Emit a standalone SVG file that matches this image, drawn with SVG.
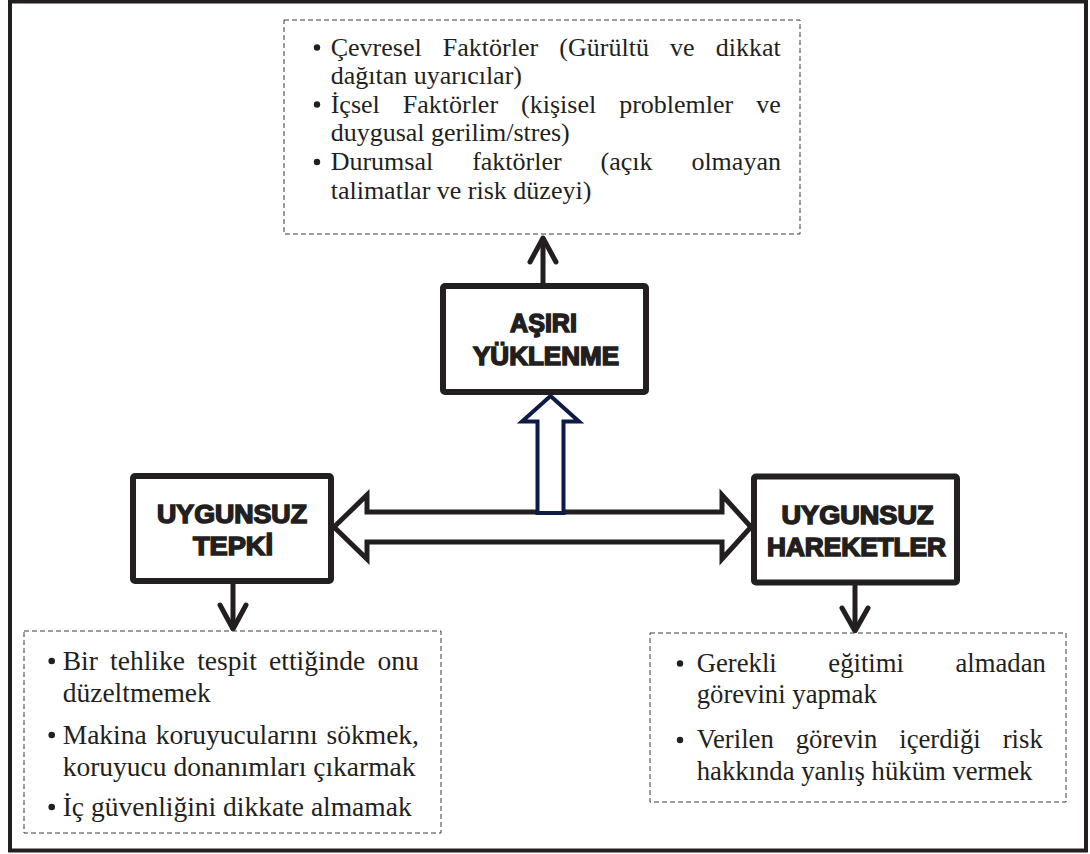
<svg xmlns="http://www.w3.org/2000/svg" width="1090" height="854" viewBox="0 0 1090 854">
  <style>
    .frame { fill: #ffffff; stroke: #231f20; stroke-width: 4; }
    .box { fill: #ffffff; stroke: #231f20; stroke-width: 6; }
    .note { fill: #ffffff; stroke: #3a3a3a; stroke-width: 1; stroke-dasharray: 5 3; }
    .label { font-family: "Liberation Sans", Arial, sans-serif; font-weight: bold; font-size: 25px; fill: #231f20; stroke: #231f20; stroke-width: 1.5; text-anchor: middle; }
    .body { font-family: 'Liberation Serif', Tinos, 'Times New Roman', 'DejaVu Serif', serif; font-size: 26px; fill: #231f20; }
    .big { font-size: 27.5px; }
    .mid { font-size: 26.7px; }
    .dot { fill: #231f20; }
    .line { fill: none; stroke: #231f20; stroke-width: 5; stroke-linecap: round; stroke-linejoin: round; }
    .double { fill: #ffffff; stroke: #231f20; stroke-width: 5; stroke-linejoin: miter; }
    .hollow { fill: #ffffff; stroke: #0d1b45; stroke-width: 4; stroke-linejoin: miter; }
  </style>

  <!-- page frame -->
  <rect class="frame" x="10" y="1.5" width="1076" height="849"/>

  <!-- connectors -->
  <g id="connectors">
    <!-- overload box up to its factor list -->
    <path class="line" d="M543,284 L543,239"/>
    <polyline class="line" points="530,262 543,238 556,262"/>
    <!-- left box down to its list -->
    <path class="line" d="M233,584 L233,627"/>
    <polyline class="line" points="220,605 233,629 246,605"/>
    <!-- right box down to its list -->
    <path class="line" d="M855,586 L855,629"/>
    <polyline class="line" points="842,608 855,631 868,608"/>
    <!-- two-way block arrow between the lower boxes -->
    <path class="double" d="M334,527 L367,495 L367,512 L722,512 L722,495 L751,527 L722,559 L722,542 L367,542 L367,559 Z"/>
    <!-- hollow up arrow into the overload box -->
    <path class="hollow" d="M550.5,396 L522,421.5 L537.5,421.5 L537.5,513 L563.5,513 L563.5,421.5 L579,421.5 Z"/>
  </g>

  <!-- top factor list -->
  <g id="factors">
    <rect class="note" x="284" y="20" width="516" height="214"/>
    <circle class="dot" cx="317" cy="47.5" r="3.2"/>
    <circle class="dot" cx="317" cy="104.5" r="3.2"/>
    <circle class="dot" cx="317" cy="162" r="3.2"/>
    <text class="body" x="330.7" y="55.5" word-spacing="14.7">Çevresel Faktörler (Gürültü ve dikkat</text>
    <text class="body" x="330.7" y="84">dağıtan uyarıcılar)</text>
    <text class="body" x="330.7" y="112.5" word-spacing="16.5">İçsel Faktörler (kişisel problemler ve</text>
    <text class="body" x="330.7" y="141">duygusal gerilim/stres)</text>
    <text class="body" x="330.7" y="170" word-spacing="32.4">Durumsal faktörler (açık olmayan</text>
    <text class="body" x="330.7" y="198.5">talimatlar ve risk düzeyi)</text>
  </g>

  <!-- overload node -->
  <g id="overload">
    <rect class="box" x="443" y="286" width="203" height="106" rx="2"/>
    <text class="label" x="543.5" y="332" textLength="67" lengthAdjust="spacingAndGlyphs">AŞIRI</text>
    <text class="label" x="546" y="364.5" textLength="146" lengthAdjust="spacingAndGlyphs">YÜKLENME</text>
  </g>

  <!-- unsafe response node -->
  <g id="unsafe-response">
    <rect class="box" x="133" y="476" width="198" height="105" rx="2"/>
    <text class="label" x="232" y="523" textLength="150" lengthAdjust="spacingAndGlyphs">UYGUNSUZ</text>
    <text class="label" x="233" y="554.5" textLength="80" lengthAdjust="spacingAndGlyphs">TEPKİ</text>
  </g>

  <!-- unsafe acts node -->
  <g id="unsafe-acts">
    <rect class="box" x="754" y="476.5" width="203" height="106" rx="2"/>
    <text class="label" x="857.5" y="524" textLength="152" lengthAdjust="spacingAndGlyphs">UYGUNSUZ</text>
    <text class="label" x="856.5" y="555.5" textLength="179" lengthAdjust="spacingAndGlyphs">HAREKETLER</text>
  </g>

  <!-- left list -->
  <g id="response-list">
    <rect class="note" x="24" y="631" width="417" height="202"/>
    <circle class="dot" cx="51.7" cy="661" r="3.3"/>
    <circle class="dot" cx="51.7" cy="735" r="3.3"/>
    <circle class="dot" cx="51.7" cy="807" r="3.3"/>
    <text class="body big" x="62.7" y="669.5" word-spacing="5.4">Bir tehlike tespit ettiğinde onu</text>
    <text class="body big" x="62.7" y="702">düzeltmemek</text>
    <text class="body big" x="62.7" y="743.5" word-spacing="2.1">Makina koruyucularını sökmek,</text>
    <text class="body big" x="62.7" y="776">koruyucu donanımları çıkarmak</text>
    <text class="body big" x="62.7" y="815.5">İç güvenliğini dikkate almamak</text>
  </g>

  <!-- right list -->
  <g id="acts-list">
    <rect class="note" x="650" y="633" width="416" height="169"/>
    <circle class="dot" cx="680" cy="663.5" r="3.2"/>
    <circle class="dot" cx="680" cy="740" r="3.2"/>
    <text class="body mid" x="696.7" y="671.5" word-spacing="44.9">Gerekli eğitimi almadan</text>
    <text class="body mid" x="696.7" y="703">görevini yapmak</text>
    <text class="body mid" x="696.7" y="748" word-spacing="15.3">Verilen görevin içerdiği risk</text>
    <text class="body mid" x="696.7" y="780">hakkında yanlış hüküm vermek</text>
  </g>
</svg>
